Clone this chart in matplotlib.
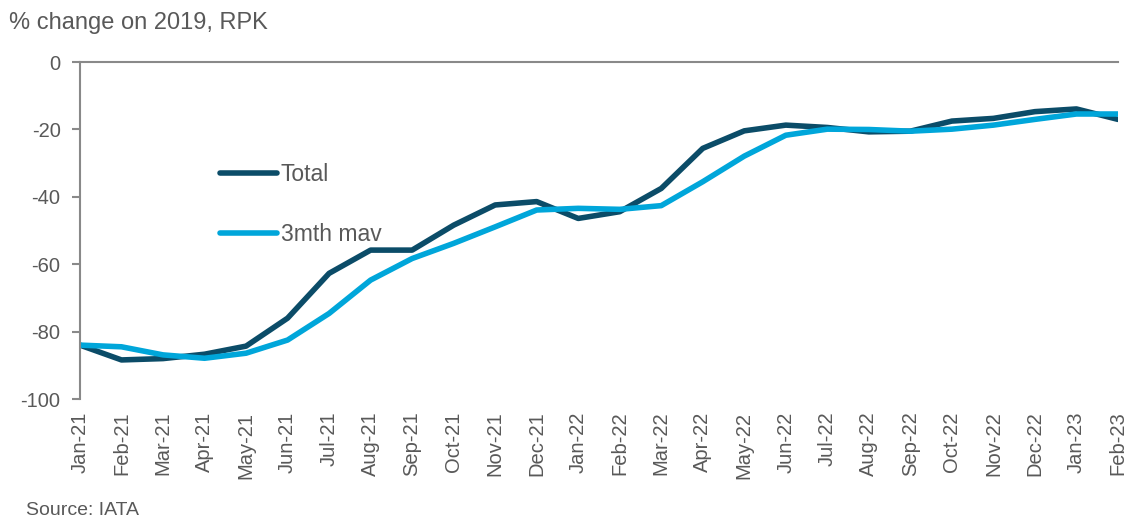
import matplotlib.pyplot as plt
import numpy as np

plt.rcParams['font.family'] = ['Liberation Sans', 'DejaVu Sans']
plt.rcParams['axes.unicode_minus'] = False

months = ['Jan-21', 'Feb-21', 'Mar-21', 'Apr-21', 'May-21', 'Jun-21', 'Jul-21',
          'Aug-21', 'Sep-21', 'Oct-21', 'Nov-21', 'Dec-21', 'Jan-22', 'Feb-22',
          'Mar-22', 'Apr-22', 'May-22', 'Jun-22', 'Jul-22', 'Aug-22', 'Sep-22',
          'Oct-22', 'Nov-22', 'Dec-22', 'Jan-23', 'Feb-23']

# RPK, % change on same month of 2019
total = [-84.0, -88.4, -88.0, -86.7, -84.3, -76.0, -62.7, -55.8, -55.8, -48.4,
         -42.4, -41.4, -46.4, -44.4, -37.5, -25.6, -20.4, -18.7, -19.4, -20.7,
         -20.5, -17.5, -16.7, -14.7, -13.9, -17.0]
mav3 = [-84.0, -84.5, -86.9, -87.9, -86.4, -82.5, -74.6, -64.7, -58.3, -53.8,
        -48.9, -43.9, -43.4, -43.7, -42.6, -35.5, -27.9, -21.7, -19.9, -20.0,
        -20.5, -19.9, -18.7, -17.0, -15.4, -15.4]

grey = '#595959'
x = np.arange(len(months))

fig = plt.figure(figsize=(11.28, 5.22), dpi=100)
ax = fig.add_axes([0.0709, 0.2356, 0.9202, 0.6454])

ax.plot(x, total, color='#0B4C68', lw=4, label='Total', solid_capstyle='round')
ax.plot(x, mav3, color='#00A6DA', lw=4, label='3mth mav', solid_capstyle='round')

ax.set_xlim(0, len(months) - 1)
ax.set_ylim(-100, 0)
ax.set_yticks(np.arange(-100, 1, 20))
ax.set_xticks(x)
ax.set_xticklabels(months, rotation=90)

for s in ['right', 'bottom']:
    ax.spines[s].set_visible(False)
for s in ['top', 'left']:
    ax.spines[s].set_color('#898989')
    ax.spines[s].set_linewidth(1.5)

ax.tick_params(axis='y', direction='out', length=6, width=1.5, color='#898989',
               labelsize=14.5, labelcolor=grey, pad=8)
ax.tick_params(axis='x', length=0, labelsize=14.5, labelcolor=grey, pad=9)

leg = ax.legend(loc='upper left', bbox_to_anchor=(0.135, 0.70), frameon=False,
                borderpad=0, borderaxespad=0, handlelength=2.5,
                handletextpad=0.15, labelspacing=1.6, fontsize=16.5)
for t in leg.get_texts():
    t.set_color(grey)

fig.text(0.008, 0.955, '% change on 2019, RPK', fontsize=17, color=grey, va='center')
fig.text(0.023, 0.022, 'Source: IATA', fontsize=14, color=grey, va='center')

fig.savefig('out.png', dpi=100)
